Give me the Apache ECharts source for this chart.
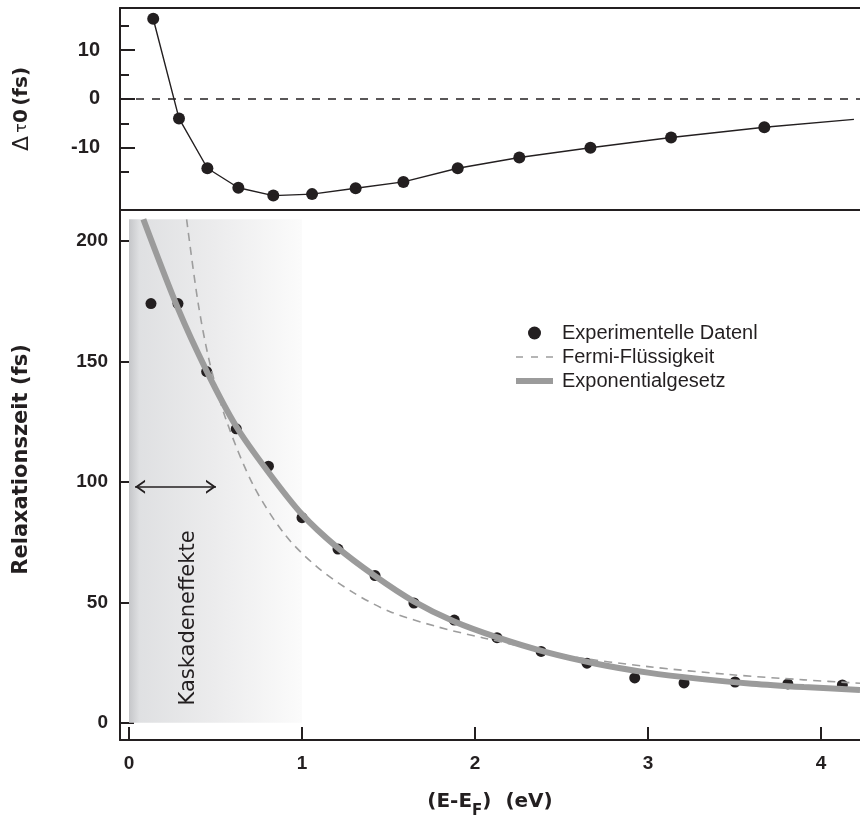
<!DOCTYPE html>
<html>
<head>
<meta charset="utf-8">
<title>Relaxationszeit</title>
<script src="https://cdn.jsdelivr.net/npm/echarts@6/dist/echarts.min.js"></script>
<style>
	html, body { margin: 0; padding: 0; background: #fff; }
	#chart { width: 860px; height: 816px; }
</style>
</head>
<body>
<div id="chart"></div>
<script>
	// oberes Panel: Delta tau_0
	var deltaE = [0.14, 0.289, 0.453, 0.632, 0.834, 1.058, 1.31, 1.586, 1.90, 2.256, 2.667, 3.133, 3.672];
	var deltaTau = [16.4, -4.0, -14.2, -18.2, -19.8, -19.5, -18.3, -17.0, -14.2, -12.0, -10.0, -7.9, -5.8];
	var deltaTail = [4.19, -4.2]; // Linie laeuft nach dem letzten Punkt weiter

	// unteres Panel: Relaxationszeit
	var expE = [0.127, 0.283, 0.449, 0.62, 0.806, 1.0, 1.208, 1.422, 1.647, 1.88, 2.127, 2.382, 2.647, 2.923, 3.208, 3.503, 3.808, 4.123];
	var expTau = [174.0, 174.0, 145.8, 122.0, 106.5, 85.1, 72.1, 61.1, 49.7, 42.6, 35.3, 29.6, 24.7, 18.6, 16.5, 16.9, 16.1, 15.7];

	var fitE = [0.083, 0.283, 0.449, 0.62, 0.806, 1.0, 1.2, 1.42, 1.643, 1.88, 2.125, 2.4, 2.7, 3.0, 3.3, 3.6, 3.9, 4.225];
	var fitTau = [209, 172, 146, 123, 104, 86.5, 73, 61, 50.5, 42, 35.5, 29.5, 24.5, 20.8, 18.2, 16.2, 14.8, 13.6];

	var fermiE = [0.333, 0.40, 0.468, 0.565, 0.719, 0.902, 1.085, 1.297, 1.509, 1.779, 2.048, 2.55, 3.0, 3.47, 3.9, 4.225];
	var fermiTau = [209, 174, 149, 125, 98.5, 78, 64.8, 54, 46.1, 39.9, 35.2, 27.6, 23.3, 20, 17.8, 16.4];

	var xTicks = [0, 1, 2, 3, 4];
	var yTicksTop = [-10, 0, 10];
	var yMinorTop = [-15, -5, 5, 15];
	var yTicksBottom = [0, 50, 100, 150, 200];

	var shadeE = [0, 1];
	var shadeTau = [0, 209];
	var arrowE = [0.035, 0.503];
	var arrowTau = 98;
	var cascadeLabelAt = [0.345, 43.5];

	var FONT = "'Liberation Sans', Arial, Helvetica, sans-serif";
	var WIDE = "'DejaVu Sans', Verdana, sans-serif";
	var INK = '#231f20';
	var xMin = -0.052, xMax = 4.225;

	function pairs(xs, ys) {
		var out = [];
		for (let i = 0; i < xs.length; i++) {
			out.push([xs[i], ys[i]]);
		}
		return out;
	}

	// offener Pfeilkopf, Spitze liegt in der Mitte der Box
	var chevron = 'path://M5,0 L5,0 M5,10 L10,20 L8.4,20 L5,13.2 L1.6,20 L0,20 Z';

	var axisLineStyle = { show: true, onZero: false, lineStyle: { color: INK, width: 2 } };

	var option = {
		animation: false,
		backgroundColor: '#fff',
		textStyle: { fontFamily: FONT, color: INK },
		grid: [
			{ left: 120, right: 0, top: 8, height: 202, containLabel: false, outerBoundsMode: 'none' },
			{ left: 120, right: 0, top: 211, height: 529, containLabel: false, outerBoundsMode: 'none' }
		],
		legend: {
			orient: 'vertical',
			left: 508,
			top: 318,
			itemWidth: 37,
			itemHeight: 13,
			itemGap: 4,
			selectedMode: false,
			data: [
				{ name: 'Experimentelle Datenl', icon: 'circle' },
				{ name: 'Fermi-Flüssigkeit', itemStyle: { opacity: 0 }, lineStyle: { width: 1.6, type: [7, 8] } },
				{ name: 'Exponentialgesetz', itemStyle: { opacity: 0 }, lineStyle: { width: 6 } }
			],
			textStyle: { fontFamily: FONT, fontSize: 20, color: INK, padding: [0, 0, 0, 4] }
		},
		xAxis: [{
			gridIndex: 0, type: 'value', min: xMin, max: xMax, position: 'bottom',
			axisLine: axisLineStyle, axisTick: { show: false }, axisLabel: { show: false }, splitLine: { show: false }
		}, {
			gridIndex: 0, type: 'value', min: xMin, max: xMax, position: 'top',
			axisLine: axisLineStyle, axisTick: { show: false }, axisLabel: { show: false }, splitLine: { show: false }
		}, {
			gridIndex: 1, type: 'value', min: xMin, max: xMax, position: 'bottom',
			axisLine: axisLineStyle,
			axisTick: { show: true, inside: true, length: 13, customValues: xTicks, lineStyle: { color: INK, width: 2 } },
			axisLabel: {
				customValues: xTicks, margin: 14, fontSize: 19, fontWeight: 'bold', color: INK, fontFamily: FONT
			},
			splitLine: { show: false },
			name: '{b|(E-E}{s|F}{b|)  (eV)}',
			nameLocation: 'middle',
			nameGap: 45,
			nameTextStyle: {
				fontFamily: WIDE,
				rich: {
					b: { fontSize: 20, fontWeight: 'bold', color: INK, lineHeight: 34, fontFamily: WIDE },
					s: { fontSize: 15, fontWeight: 'bold', color: INK, lineHeight: 15, verticalAlign: 'bottom', fontFamily: WIDE }
				}
			}
		}],
		yAxis: [{
			gridIndex: 0, type: 'value', min: -22.75, max: 18.6, position: 'left',
			axisLine: axisLineStyle,
			axisTick: { show: true, inside: true, length: 15, customValues: yTicksTop, lineStyle: { color: INK, width: 2 } },
			axisLabel: { customValues: yTicksTop, margin: 20, fontSize: 20, fontWeight: 'bold', color: INK, fontFamily: FONT },
			splitLine: { show: false },
			name: '{d|Δ} {t|τ}{b|0} {b|(fs)}',
			nameLocation: 'middle',
			nameRotate: 90,
			nameGap: 87,
			nameTextStyle: {
				rich: {
					d: { fontSize: 22, color: INK, fontFamily: WIDE },
					t: { fontSize: 16, color: INK, fontFamily: WIDE },
					b: { fontSize: 20, fontWeight: 'bold', color: INK, fontFamily: WIDE }
				}
			}
		}, {
			gridIndex: 0, type: 'value', min: -22.75, max: 18.6, position: 'left',
			axisLine: { show: false, onZero: false },
			axisTick: { show: true, inside: true, length: 9, customValues: yMinorTop, lineStyle: { color: INK, width: 2 } },
			axisLabel: { show: false },
			splitLine: { show: false }
		}, {
			gridIndex: 1, type: 'value', min: -7.18, max: 212.45, position: 'left',
			axisLine: axisLineStyle,
			axisTick: { show: true, inside: true, length: 14, customValues: yTicksBottom, lineStyle: { color: INK, width: 2 } },
			axisLabel: { customValues: yTicksBottom, margin: 12, fontSize: 19, fontWeight: 'bold', color: INK, fontFamily: FONT },
			splitLine: { show: false },
			name: 'Relaxationszeit (fs)',
			nameLocation: 'middle',
			nameRotate: 90,
			nameGap: 88,
			nameTextStyle: { fontSize: 21, fontWeight: 'bold', color: INK, fontFamily: WIDE, padding: [0, 0, 0, 32] }
		}],
		series: [{
			type: 'line',
			xAxisIndex: 0, yAxisIndex: 0,
			data: pairs(deltaE, deltaTau).concat([deltaTail]),
			showSymbol: false,
			silent: true,
			lineStyle: { color: INK, width: 1.4 },
			markLine: {
				silent: true,
				symbol: 'none',
				label: { show: false },
				lineStyle: { color: INK, width: 1.5, type: [8, 8] },
				data: [{ yAxis: 0 }]
			}
		}, {
			type: 'scatter',
			xAxisIndex: 0, yAxisIndex: 0,
			data: pairs(deltaE, deltaTau),
			symbolSize: 12,
			itemStyle: { color: INK, opacity: 1 }
		}, {
			name: 'Exponentialgesetz',
			type: 'line',
			xAxisIndex: 2, yAxisIndex: 2,
			data: pairs(fitE, fitTau),
			smooth: 0.3,
			symbol: 'none',
			itemStyle: { color: '#9b9b9b' },
			lineStyle: { color: '#9b9b9b', width: 6 },
			markArea: {
				silent: true,
				itemStyle: {
					color: new echarts.graphic.LinearGradient(0, 0, 1, 0, [
						{ offset: 0, color: '#c5c6c9' },
						{ offset: 0.06, color: '#dfe0e2' },
						{ offset: 0.5, color: '#ececed' },
						{ offset: 1, color: '#fbfbfb' }
					])
				},
				data: [[{ coord: [shadeE[0], shadeTau[0]] }, { coord: [shadeE[1], shadeTau[1]] }]]
			}
		}, {
			name: 'Fermi-Flüssigkeit',
			type: 'line',
			xAxisIndex: 2, yAxisIndex: 2,
			data: pairs(fermiE, fermiTau),
			smooth: 0.3,
			symbol: 'none',
			itemStyle: { color: '#9d9d9d' },
			lineStyle: { color: '#9d9d9d', width: 1.6, type: [8, 6] }
		}, {
			name: 'Experimentelle Datenl',
			type: 'scatter',
			xAxisIndex: 2, yAxisIndex: 2,
			data: pairs(expE, expTau),
			symbolSize: 11,
			itemStyle: { color: INK, opacity: 1 },
			markLine: {
				silent: true,
				symbol: [chevron, chevron],
				symbolSize: [14, 20],
				label: { show: false },
				lineStyle: { color: INK, width: 1.6, type: 'solid' },
				data: [[{ coord: [arrowE[0], arrowTau] }, { coord: [arrowE[1], arrowTau] }]]
			},
			markPoint: {
				silent: true,
				symbol: 'circle',
				symbolSize: 1,
				itemStyle: { color: 'rgba(0,0,0,0)' },
				label: {
					show: true, position: 'inside', rotate: 90,
					formatter: 'Kaskadeneffekte', fontSize: 21, color: INK, fontFamily: WIDE
				},
				data: [{ coord: cascadeLabelAt }]
			}
		}]
	};

	let myChart = echarts.init(document.getElementById('chart'));
	myChart.setOption(option);
</script>
</body>
</html>
